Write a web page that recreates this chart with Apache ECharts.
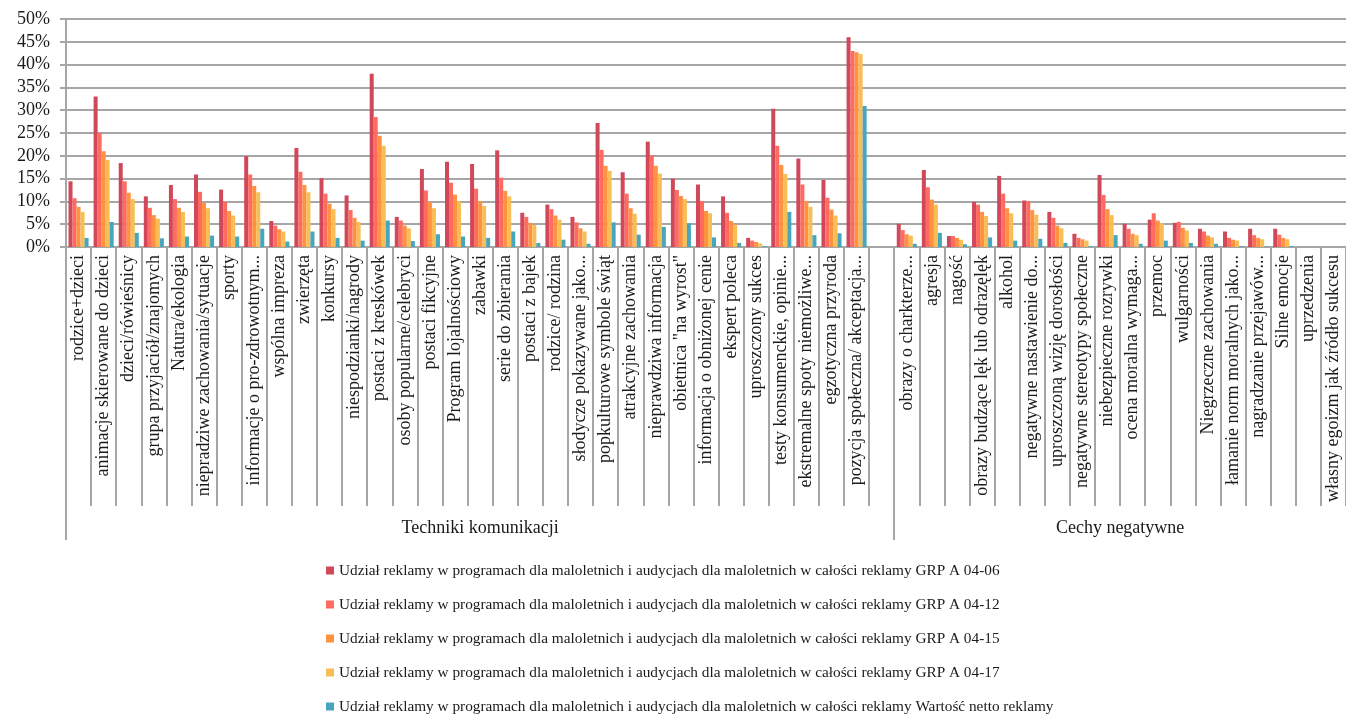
<!DOCTYPE html>
<html>
<head>
<meta charset="utf-8">
<script src="https://cdn.jsdelivr.net/npm/echarts@6/dist/echarts.min.js"></script>
<style>
  html, body { margin: 0; padding: 0; background: #fff; }
  #chart { width: 1346px; height: 715px; }
</style>
</head>
<body>
<div id="chart"></div>
<script>
const categories = [
  'rodzice+dzieci', 'animacje skierowane do dzieci', 'dzieci/rówieśnicy', 'grupa przyjaciół/znajomych',
  'Natura/ekologia', 'niepradziwe zachowania/sytuacje', 'sporty', 'informacje o pro-zdrowotnym...',
  'wspólna impreza', 'zwierzęta', 'konkursy', 'niespodzianki/nagrody', 'postaci z kreskówek',
  'osoby popularne/celebryci', 'postaci fikcyjne', 'Program lojalnościowy', 'zabawki',
  'serie do zbierania', 'postaci z bajek', 'rodzice/ rodzina', 'słodycze pokazywane jako...',
  'popkulturowe symbole świąt', 'atrakcyjne zachowania', 'nieprawdziwa informacja',
  'obietnica "na wyrost"', 'informacja o obniżonej cenie', 'ekspert poleca', 'uproszczony sukces',
  'testy konsumenckie, opinie...', 'ekstremalne spoty niemożliwe...', 'egzotyczna przyroda',
  'pozycja społeczna/ akceptacja...', '',
  'obrazy o charkterze...', 'agresja', 'nagość', 'obrazy budzące lęk lub odrazęlęk', 'alkohol',
  'negatywne nastawienie do...', 'uproszczoną wizję dorosłości', 'negatywne stereotypy społeczne',
  'niebezpieczne rozrywki', 'ocena moralna wymaga...', 'przemoc', 'wulgarności',
  'Niegrzeczne zachowania', 'łamanie norm moralnych jako...', 'nagradzanie przejawów...',
  'Silne emocje', 'uprzedzenia', 'własny egoizm jak źródło sukcesu'
];

// group name, first category index, number of categories
const groups = [
  { name: 'Techniki komunikacji', start: 0, count: 33 },
  { name: 'Cechy negatywne', start: 33, count: 18 }
];

const seriesNames = [
  'Udział reklamy w programach dla maloletnich i audycjach dla maloletnich w całości reklamy GRP A 04-06',
  'Udział reklamy w programach dla maloletnich i audycjach dla maloletnich w całości reklamy GRP A 04-12',
  'Udział reklamy w programach dla maloletnich i audycjach dla maloletnich w całości reklamy GRP A 04-15',
  'Udział reklamy w programach dla maloletnich i audycjach dla maloletnich w całości reklamy GRP A 04-17',
  'Udział reklamy w programach dla maloletnich i audycjach dla maloletnich w całości reklamy Wartość netto reklamy'
];

const grp0406 = [14.4, 33.0, 18.4, 11.1, 13.6, 15.9, 12.6, 19.9, 5.7, 21.7, 15.1, 11.3, 38.0, 6.6, 17.1, 18.7, 18.2,
  21.2, 7.5, 9.3, 6.6, 27.2, 16.4, 23.1, 15.0, 13.7, 11.1, 2.0, 30.3, 19.4, 14.7, 46.0, 0,
  5.1, 16.9, 2.4, 9.9, 15.6, 10.2, 7.7, 2.9, 15.8, 5.1, 6.0, 5.3, 4.0, 3.4, 4.0, 4.0, 0, 0];
const grp0412 = [10.7, 25.0, 14.4, 8.6, 10.5, 12.1, 9.9, 15.9, 4.7, 16.5, 11.7, 8.1, 28.5, 5.8, 12.4, 14.1, 12.8,
  15.2, 6.6, 8.3, 5.4, 21.3, 11.7, 20.1, 12.5, 10.1, 7.5, 1.4, 22.2, 13.7, 10.8, 43.0, 0,
  3.7, 13.1, 2.4, 9.3, 11.7, 10.1, 6.4, 2.0, 11.4, 4.0, 7.4, 5.5, 3.4, 2.0, 2.6, 2.7, 0, 0];
const grp0415 = [8.8, 21.0, 11.9, 7.0, 8.6, 9.7, 7.9, 13.4, 3.9, 13.6, 9.5, 6.4, 24.4, 4.7, 9.9, 11.5, 10.1,
  12.3, 5.3, 6.9, 4.1, 17.8, 8.5, 17.8, 11.2, 7.9, 5.7, 1.1, 18.0, 10.1, 8.2, 42.7, 0,
  2.8, 10.4, 2.0, 7.7, 8.5, 8.1, 4.7, 1.7, 8.3, 2.9, 5.8, 4.2, 2.5, 1.6, 2.0, 2.0, 0, 0];
const grp0417 = [7.7, 19.1, 10.5, 6.2, 7.7, 8.5, 6.9, 12.0, 3.4, 12.0, 8.3, 5.5, 22.2, 4.1, 8.5, 10.0, 9.0,
  11.1, 4.8, 6.0, 3.4, 16.7, 7.3, 16.1, 10.5, 7.4, 4.9, 0.8, 16.0, 8.8, 6.9, 42.3, 0,
  2.5, 9.3, 1.6, 6.8, 7.4, 7.1, 4.1, 1.4, 7.0, 2.6, 5.2, 3.6, 2.1, 1.4, 1.7, 1.7, 0, 0];
const netto = [2.0, 5.5, 3.1, 1.9, 2.3, 2.5, 2.3, 4.0, 1.2, 3.4, 2.0, 1.4, 5.8, 1.3, 2.8, 2.3, 2.0,
  3.4, 0.9, 1.6, 0.7, 5.4, 2.7, 4.4, 5.2, 2.1, 0.9, 0.2, 7.7, 2.6, 3.0, 30.9, 0,
  0.7, 3.1, 0.6, 2.1, 1.4, 1.8, 0.9, 0.2, 2.6, 0.7, 1.4, 0.9, 0.7, 0.2, 0.1, 0.2, 0, 0];

const seriesData = [grp0406, grp0412, grp0415, grp0417, netto];
const colors = ['#D0485A', '#FF6B5E', '#FF9240', '#F8BE55', '#47A6BE'];

const fontFamily = '"Liberation Serif", "DejaVu Serif", serif';

const chart = echarts.init(document.getElementById('chart'), null, {
  width: 1346,
  height: 715,
  renderer: 'canvas',
  devicePixelRatio: 1,
});

const option = {
  animation: false,
  color: colors,
  textStyle: { fontFamily: fontFamily, color: '#1a1a1a' },
  grid: {
    left: 66,
    right: 0,
    top: 19,
    bottom: 468,
    containLabel: false,
    outerBoundsMode: 'none'
  },
  legend: {
    orient: 'vertical',
    left: 326,
    top: 563,
    height: 160,
    padding: 0,
    icon: 'rect',
    itemWidth: 8,
    itemHeight: 8,
    itemGap: 19,
    textStyle: { fontFamily: fontFamily, fontSize: 15.3, color: '#1a1a1a', lineHeight: 14 },
    data: seriesNames
  },
  xAxis: [
    {
      type: 'category',
      data: categories,
      axisLine: { show: true, lineStyle: { color: '#a6a6a6', width: 2 } },
      axisTick: { show: true, interval: 0, length: 259, lineStyle: { color: '#a6a6a6', width: 2 } },
      axisLabel: {
        interval: 0,
        rotate: 90,
        margin: 8,
        fontFamily: fontFamily,
        fontSize: 18,
        color: '#1a1a1a'
      }
    },
    {
      type: 'value',
      position: 'bottom',
      min: 0,
      max: categories.length,
      axisLine: { show: false },
      splitLine: { show: false },
      axisTick: {
        show: true,
        customValues: groups.map(g => g.start),
        length: 293,
        lineStyle: { color: '#a6a6a6', width: 2 }
      },
      axisLabel: {
        customValues: groups.map(g => g.start + g.count / 2),
        margin: 272,
        fontFamily: fontFamily,
        fontSize: 18,
        color: '#1a1a1a',
        formatter: function (v) {
          const g = groups.find(gr => Math.abs(gr.start + gr.count / 2 - v) < 0.01);
          return g ? g.name : '';
        }
      }
    }
  ],
  yAxis: {
    type: 'value',
    min: 0,
    max: 50,
    interval: 5,
    axisLine: { show: true, lineStyle: { color: '#a6a6a6', width: 2 } },
    axisTick: { show: true, length: 6, lineStyle: { color: '#a6a6a6', width: 2 } },
    splitLine: { show: true, lineStyle: { color: '#a6a6a6', width: 2 } },
    axisLabel: {
      formatter: '{value}%',
      margin: 16,
      fontFamily: fontFamily,
      fontSize: 18,
      color: '#1a1a1a'
    }
  },
  series: seriesNames.map((name, i) => ({
    name: name,
    type: 'bar',
    xAxisIndex: 0,
    data: seriesData[i],
    barGap: '0%',
    barCategoryGap: '20%',
    itemStyle: { color: colors[i] }
  }))
};

chart.setOption(option);
</script>
</body>
</html>
